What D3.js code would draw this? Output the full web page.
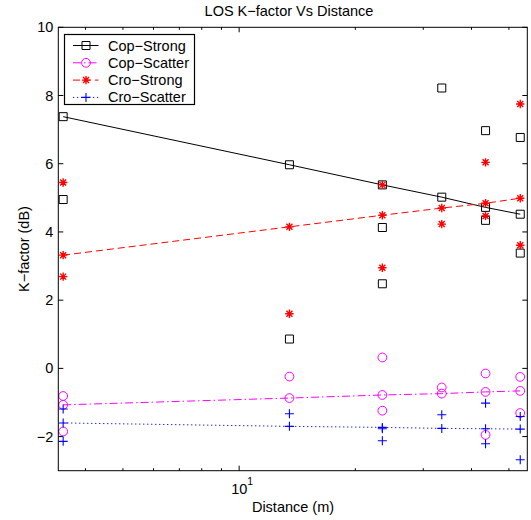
<!DOCTYPE html>
<html>
<head>
<meta charset="utf-8">
<script src="https://cdn.jsdelivr.net/npm/d3@7"></script>
<style>
    body { margin: 0; background: #fff; }
    text { font-family: "Liberation Sans", Arial, sans-serif; }
</style>
</head>
<body>
<div id="chart"></div>
<script>
// distances (m) where the fitted lines carry markers
let distances = [3.5, 13.5, 23.5, 33.5, 43.5, 53.5]

// fitted line values (dB)
let copStrongFit = [7.38, 5.97, 5.38, 5.02, 4.72, 4.52]
let copScatterFit = [-1.07, -0.87, -0.78, -0.74, -0.69, -0.66]
let croStrongFit = [3.32, 4.15, 4.49, 4.70, 4.84, 4.99]
let croScatterFit = [-1.60, -1.70, -1.73, -1.76, -1.77, -1.78]

// measured points (x, K-factor)
let copStrongX = [3.5, 13.5, 23.5, 23.5, 33.5, 43.5, 43.5, 53.5, 53.5]
let copStrongY = [4.95, 0.86, 4.13, 2.48, 8.22, 6.97, 4.34, 6.77, 3.38]
let copScatterX = [3.5, 3.5, 13.5, 23.5, 23.5, 33.5, 43.5, 43.5, 53.5, 53.5]
let copScatterY = [-0.81, -1.85, -0.24, 0.32, -1.24, -0.56, -0.15, -1.95, -0.25, -1.31]
let croStrongX = [3.5, 3.5, 13.5, 23.5, 23.5, 33.5, 43.5, 43.5, 53.5, 53.5]
let croStrongY = [5.45, 2.69, 1.60, 5.38, 2.95, 4.23, 6.04, 4.47, 7.75, 3.61]
let croScatterX = [3.5, 3.5, 13.5, 23.5, 23.5, 33.5, 43.5, 43.5, 53.5, 53.5]
let croScatterY = [-1.19, -2.14, -1.33, -1.77, -2.12, -1.36, -1.02, -2.21, -1.41, -2.68]

let seriesNames = ["Cop\u2212Strong", "Cop\u2212Scatter", "Cro\u2212Strong", "Cro\u2212Scatter"]
let yTicks = [-2, 0, 2, 4, 6, 8, 10]
let xMinorTicks = [4, 5, 6, 7, 8, 9, 20, 30, 40, 50]

let width = 531, height = 520
let plotLeft = 58.3, plotRight = 527.3, plotTop = 27.3, plotBottom = 470.7
let fontSize = 14.5

let styles = [
    { color: "#000000", dash: null, marker: "square", mw: 1 },
    { color: "#ff00ff", dash: "8,3,1.5,3", marker: "circle", mw: 1 },
    { color: "#ff0000", dash: "7,4", marker: "star", mw: 1.4 },
    { color: "#0000ff", dash: "1.2,2.8", marker: "plus", mw: 1.1 }
]

let fits = [copStrongFit, copScatterFit, croStrongFit, croScatterFit]
let points = [
    d3.zip(copStrongX, copStrongY),
    d3.zip(copScatterX, copScatterY),
    d3.zip(croStrongX, croStrongY),
    d3.zip(croScatterX, croScatterY)
]

let x = d3.scaleLog().domain([3.4, 55.8]).range([plotLeft, plotRight])
let y = d3.scaleLinear().domain([-3, 10]).range([plotBottom, plotTop])

let svg = d3.select("#chart").append("svg")
    .attr("width", width)
    .attr("height", height)

function markerPath(type) {
    if (type == "square") return "M-4,-4H4V4H-4Z"
    if (type == "circle") return d3.arc()({ innerRadius: 0, outerRadius: 4.4, startAngle: 0, endAngle: 2 * Math.PI })
    if (type == "plus") return "M-4.5,0H4.5M0,-4.5V4.5"
    // asterisk
    return "M-4.2,0H4.2M0,-4.2V4.2M-3,-3L3,3M-3,3L3,-3"
}

function drawMarker(g, s, cx, cy) {
    g.append("path")
        .attr("transform", "translate(" + cx + "," + cy + ")")
        .attr("d", markerPath(s.marker))
        .attr("fill", "none")
        .attr("stroke", s.color)
        .attr("stroke-width", s.mw)
}

// ticks (inside, both sides)
let axes = svg.append("g").attr("stroke", "#000").attr("stroke-width", 1)
yTicks.forEach(function (t) {
    axes.append("line").attr("x1", plotLeft).attr("x2", plotLeft + 5).attr("y1", y(t)).attr("y2", y(t))
    axes.append("line").attr("x1", plotRight).attr("x2", plotRight - 5).attr("y1", y(t)).attr("y2", y(t))
})
xMinorTicks.forEach(function (t) {
    axes.append("line").attr("x1", x(t)).attr("x2", x(t)).attr("y1", plotBottom).attr("y2", plotBottom - 2.5)
    axes.append("line").attr("x1", x(t)).attr("x2", x(t)).attr("y1", plotTop).attr("y2", plotTop + 2.5)
})
axes.append("line").attr("x1", x(10)).attr("x2", x(10)).attr("y1", plotBottom).attr("y2", plotBottom - 5)
axes.append("line").attr("x1", x(10)).attr("x2", x(10)).attr("y1", plotTop).attr("y2", plotTop + 5)

// fitted lines and markers
let plot = svg.append("g")
let line = d3.line()
    .x(function (d) { return x(d[0]) })
    .y(function (d) { return y(d[1]) })

fits.forEach(function (fit, i) {
    let s = styles[i]
    plot.append("path")
        .datum(d3.zip(distances, fit))
        .attr("d", line)
        .attr("fill", "none")
        .attr("stroke", s.color)
        .attr("stroke-width", 1)
        .attr("stroke-dasharray", s.dash)
    distances.forEach(function (d, j) {
        drawMarker(plot, s, x(d), y(fit[j]))
    })
    points[i].forEach(function (p) {
        drawMarker(plot, s, x(p[0]), y(p[1]))
    })
})

// frame
svg.append("rect")
    .attr("x", plotLeft).attr("y", plotTop)
    .attr("width", plotRight - plotLeft).attr("height", plotBottom - plotTop)
    .attr("fill", "none")
    .attr("stroke", "#000")
    .attr("stroke-width", 1)

// tick labels
svg.append("g").selectAll("text")
    .data(yTicks)
    .join("text")
    .attr("x", plotLeft - 5)
    .attr("y", function (d) { return y(d) + 5 })
    .attr("text-anchor", "end")
    .style("font-size", fontSize + "px")
    .text(function (d) { return d < 0 ? "\u2212" + Math.abs(d) : d })

let xl = svg.append("text")
    .attr("x", x(10) + 3)
    .attr("y", 494)
    .attr("text-anchor", "middle")
    .style("font-size", fontSize + "px")
xl.append("tspan").text("10")
xl.append("tspan").attr("dy", -9).style("font-size", "10.5px").text("1")

// titles
svg.append("text")
    .attr("x", 289)
    .attr("y", 16)
    .attr("text-anchor", "middle")
    .style("font-size", fontSize + "px")
    .text("LOS K\u2212factor Vs Distance")

svg.append("text")
    .attr("x", 293)
    .attr("y", 512)
    .attr("text-anchor", "middle")
    .style("font-size", fontSize + "px")
    .text("Distance (m)")

svg.append("text")
    .attr("transform", "translate(29,249) rotate(-90)")
    .attr("text-anchor", "middle")
    .style("font-size", fontSize + "px")
    .text("K\u2212factor (dB)")

// legend
let legend = svg.append("g")
legend.append("rect")
    .attr("x", 64.5).attr("y", 34.5)
    .attr("width", 130).attr("height", 70)
    .attr("fill", "#fff")
    .attr("stroke", "#000")
    .attr("stroke-width", 1.2)

seriesNames.forEach(function (name, i) {
    let s = styles[i]
    let ly = 45.5 + i * 17.3
    legend.append("line")
        .attr("x1", 73).attr("x2", 98.5)
        .attr("y1", ly).attr("y2", ly)
        .attr("stroke", s.color)
        .attr("stroke-width", 1)
        .attr("stroke-dasharray", s.dash)
    drawMarker(legend, s, 86, ly)
    legend.append("text")
        .attr("x", 108)
        .attr("y", ly + 5)
        .style("font-size", fontSize + "px")
        .text(name)
})
</script>
</body>
</html>
